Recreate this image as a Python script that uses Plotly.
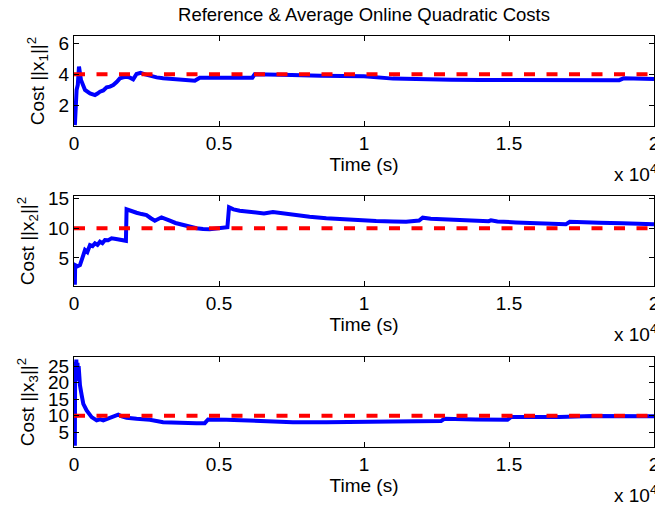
import plotly.graph_objects as go

# ---------------- data ----------------
t1 = [30, 60, 90, 130, 172, 241, 379, 551, 723, 810, 895, 1010, 1125, 1240, 1353, 1470, 1583,
      1700, 1813, 1930, 2041, 2157, 2295, 2450, 2616, 2850, 3074, 3400, 3762, 4000, 4165, 4337,
      4700, 5025, 5300, 5600, 6058, 6150, 6230, 6746, 7500, 8500, 9300, 10000, 11000, 12000,
      13000, 14000, 15000, 16000, 17000, 18000, 18800, 18950, 20000]
c1 = [0.7, 2.2, 3.0, 3.3, 4.5, 3.63, 2.98, 2.76, 2.65, 2.75, 2.87, 2.95, 3.15, 3.2, 3.30, 3.5, 3.74,
      3.8, 3.84, 3.78, 3.67, 4.02, 4.1, 4.0, 3.89, 3.8, 3.74, 3.7, 3.63, 3.62, 3.58, 3.78,
      3.78, 3.78, 3.76, 3.74, 3.74, 3.78, 4.0, 4.0, 3.95, 3.9, 3.85, 3.87, 3.72, 3.66,
      3.64, 3.63, 3.63, 3.62, 3.6, 3.6, 3.62, 3.74, 3.69]

t2 = [30, 40, 120, 206, 290, 379, 460, 551, 640, 723, 810, 895, 980, 1067, 1180, 1297, 1450, 1583,
      1790, 1813, 2000, 2157, 2330, 2500, 2650, 2788, 3018, 3150, 3304, 3500, 3762, 4000, 4223,
      4450, 4681, 4900, 5139, 5290, 5346, 5500, 5714, 5950, 6172, 6402, 6550, 6860, 7200, 7548,
      8123, 8698, 9500, 10419, 11000, 11452, 11900, 12024, 12300, 12598, 13286, 14088, 14300,
      14377, 14600, 15238, 16153, 16959, 17096, 17500, 18104, 18907, 19500, 20000]
c2 = [0.5, 3.8, 3.6, 3.8, 5.0, 6.34, 6.0, 7.18, 7.0, 7.47, 7.2, 7.74, 7.5, 8.03, 8.0, 8.31, 8.2, 8.14,
      7.9, 13.2, 12.8, 12.63, 12.4, 12.24, 11.7, 11.28, 11.85, 11.5, 11.28, 10.9, 10.56, 10.2, 10.0,
      9.9, 9.83, 9.95, 10.1, 10.2, 13.54, 13.2, 12.97, 12.8, 12.63, 12.63, 12.5, 12.75, 12.5, 12.24,
      11.96, 11.69, 11.4, 11.23, 11.15, 11.11, 11.3, 11.79, 11.6, 11.52, 11.4, 11.11, 11.2,
      11.35, 11.15, 11.0, 10.84, 10.67, 11.11, 11.0, 10.94, 10.84, 10.85, 10.7]

t3 = [30, 40, 60, 80, 100, 120, 140, 160, 185, 206, 264, 321, 436, 608, 780, 900, 1010, 1239, 1400,
      1526, 1650, 1813, 2157, 2616, 3074, 3533, 4223, 4509, 4623, 5255, 5943, 6746, 7548, 8698,
      9844, 10990, 12656, 12770, 13861, 14949, 15066, 16728, 17876, 19024, 20000]
c3 = [0.9, 26.3, 21.0, 27.0, 22.0, 26.0, 20.5, 25.0, 20.0, 19.2, 16.2, 13.6, 11.6, 9.57, 8.57, 8.9,
      8.57, 9.27, 9.6, 10.3, 9.8, 9.37, 9.06, 8.76, 8.05, 7.85, 7.75, 7.75, 8.86, 8.76, 8.57, 8.26,
      8.05, 8.05, 8.05, 8.26, 8.36, 9.06, 8.87, 8.8, 9.57, 9.57, 9.88, 9.88, 9.8]

ref_t = [0, 20000]
ref_levels = [4, 10, 10]

x_tickvals = [0, 5000, 10000, 15000, 20000]
x_ticktext = ["0", "0.5", "1", "1.5", "2"]
y_tickvals = [[2, 4, 6], [5, 10, 15], [5, 10, 15, 20, 25]]
y_ranges = [[0.64, 6.49], [0.27, 15.45], [0.53, 27.75]]
y_titles = ["Cost ||x<sub>1</sub>||<sup>2</sup>",
            "Cost ||x<sub>2</sub>||<sup>2</sup>",
            "Cost ||x<sub>3</sub>||<sup>2</sup>"]
title_text = "Reference &amp; Average Online Quadratic Costs"
x_title = "Time (s)"

# ---------------- figure ----------------
W, H = 655, 506
ML, MR = 74, 1
FONT = "Liberation Sans, Arial, Helvetica, sans-serif"
FS = 19

# pixel rows (top, bottom) of each axes box
rows = [(36, 126), (196, 286), (357, 447)]

fig = go.Figure()
series = [(t1, c1), (t2, c2), (t3, c3)]
for i, (tt, cc) in enumerate(series):
    xa = "x" if i == 0 else f"x{i+1}"
    ya = "y" if i == 0 else f"y{i+1}"
    fig.add_trace(go.Scatter(x=tt, y=cc, mode="lines", xaxis=xa, yaxis=ya,
                             line=dict(color="#0000FF", width=4), showlegend=False))
    fig.add_trace(go.Scatter(x=ref_t, y=[ref_levels[i]] * 2, mode="lines", xaxis=xa, yaxis=ya,
                             line=dict(color="#FF0000", width=4, dash="11px,11.5px"),
                             showlegend=False))

axis_common = dict(showline=True, linecolor="black", linewidth=1, mirror="ticks",
                   ticks="inside", ticklen=5, tickcolor="black", showgrid=False,
                   zeroline=False, tickfont=dict(family=FONT, size=FS, color="black"),
                   automargin=False, ticklabeloverflow="allow")

layout = dict(width=W, height=H, margin=dict(l=ML, r=MR, t=0, b=0),
              paper_bgcolor="white", plot_bgcolor="white",
              font=dict(family=FONT, size=FS, color="black"),
              title=dict(text=title_text, x=0.5, xref="paper", xanchor="center",
                         y=1 - 15 / H, yref="container", yanchor="middle",
                         font=dict(family=FONT, size=FS - 0.5, color="black")))

annotations = []
for i, (top, bot) in enumerate(rows):
    dom = [1 - bot / H, 1 - top / H]
    xk = "xaxis" if i == 0 else f"xaxis{i+1}"
    yk = "yaxis" if i == 0 else f"yaxis{i+1}"
    ya = "y" if i == 0 else f"y{i+1}"
    layout[xk] = dict(axis_common, domain=[0, 1], anchor=ya, range=[0, 20000],
                      tickvals=x_tickvals, ticktext=x_ticktext,
                      title=dict(text=x_title, standoff=3,
                                 font=dict(family=FONT, size=FS, color="black")))
    layout[yk] = dict(axis_common, domain=dom, anchor="x" if i == 0 else f"x{i+1}",
                      range=y_ranges[i], tickvals=y_tickvals[i],
                      title=dict(text=y_titles[i], standoff=8,
                                 font=dict(family=FONT, size=FS, color="black")))
    annotations.append(dict(text="x 10<sup>4</sup>", xref="paper", yref="paper",
                            x=(612 - ML) / (W - ML - MR), xanchor="left",
                            y=1 - (bot + 47) / H, yanchor="middle", showarrow=False,
                            font=dict(family=FONT, size=FS, color="black")))
layout["annotations"] = annotations

fig.update_layout(**layout)
fig.write_html("out.html", config={"displayModeBar": False},
               post_script="document.body.style.margin='0px'; document.body.style.overflow='hidden';")
